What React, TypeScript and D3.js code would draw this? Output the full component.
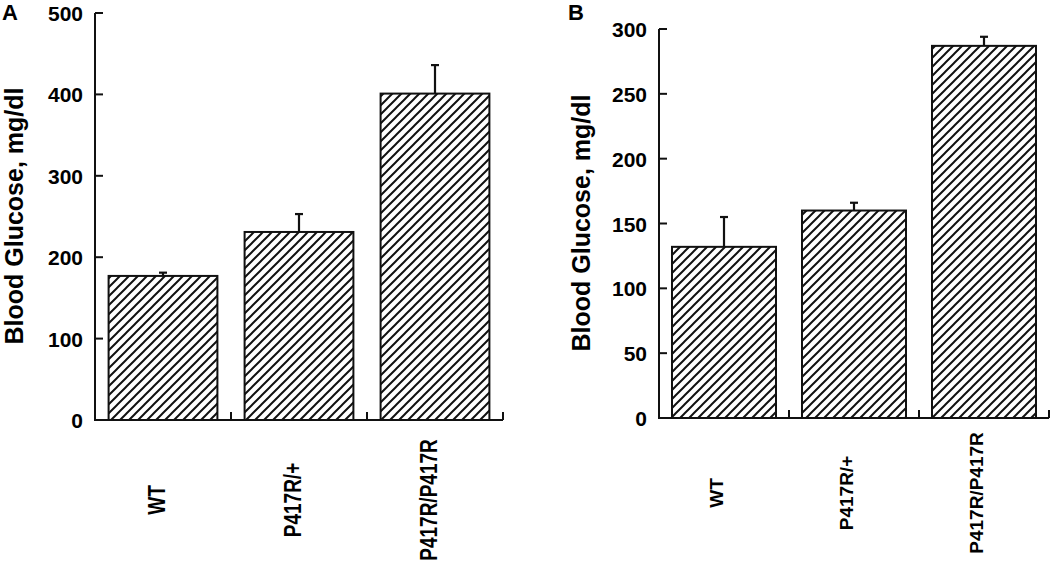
import React from "react";
import * as d3 from "d3";

const categories = ["WT", "P417R/+", "P417R/P417R"];
const glucoseA = [177, 231, 401];
const errorA = [4, 22, 35];
const glucoseB = [132, 160, 287];
const errorB = [23, 6, 7];
const ticksA = [0, 100, 200, 300, 400, 500];
const ticksB = [0, 50, 100, 150, 200, 250, 300];

const font = "'Liberation Sans', Arial, Helvetica, sans-serif";

type PanelProps = {
  letter: string;
  letterX: number;
  values: number[];
  errors: number[];
  ticks: number[];
  left: number;
  right: number;
  bottom: number;
  top: number;
  titleX: number;
  titleY: number;
  labelY: number;
  labelDx: number;
  labelStretch: number;
};

const Panel = (p: PanelProps) => {
  const max = p.ticks[p.ticks.length - 1];
  const y = d3.scaleLinear().domain([0, max]).range([p.bottom, p.top]);
  const x = d3
    .scaleBand()
    .domain(categories)
    .range([p.left, p.right])
    .paddingInner(0.2)
    .paddingOuter(0.1);
  const step = x.step();
  const bounds = categories.map((_, i) => p.left + step * (i + 1));

  return (
    <g>
      <text x={p.letterX} y={20} fontSize={22} fontWeight="bold" fontFamily={font}>
        {p.letter}
      </text>
      <text
        transform={`translate(${p.titleX},${p.titleY}) rotate(-90)`}
        textAnchor="middle"
        fontSize={25}
        fontWeight="bold"
        fontFamily={font}
      >
        Blood Glucose, mg/dl
      </text>

      {categories.map((c, i) => {
        const bx = x(c)!;
        const bw = x.bandwidth();
        const cx = bx + bw / 2;
        const yv = y(p.values[i]);
        const ye = y(p.values[i] + p.errors[i]);
        return (
          <g key={c}>
            <rect
              x={bx}
              y={yv}
              width={bw}
              height={p.bottom - yv}
              fill="url(#hatch)"
              stroke="#111"
              strokeWidth={2}
            />
            <line x1={cx} x2={cx} y1={yv} y2={ye} stroke="#111" strokeWidth={2.2} />
            <line x1={cx - 4} x2={cx + 4} y1={ye} y2={ye} stroke="#111" strokeWidth={2.2} />
            <text
              transform={`translate(${cx + p.labelDx},${p.labelY}) rotate(-90) scale(1,${p.labelStretch})`}
              textAnchor="middle"
              fontSize={19}
              fontWeight="bold"
              fontFamily={font}
            >
              {c}
            </text>
          </g>
        );
      })}

      {/* y axis */}
      <line x1={p.left} x2={p.left} y1={p.bottom + 1} y2={p.top} stroke="#111" strokeWidth={2} />
      {p.ticks.map((t) => (
        <g key={t}>
          <line x1={p.left} x2={p.left + 8} y1={y(t)} y2={y(t)} stroke="#111" strokeWidth={2} />
          <text
            x={p.left - 12}
            y={y(t) + 8}
            textAnchor="end"
            fontSize={21}
            fontWeight="bold"
            fontFamily={font}
          >
            {t}
          </text>
        </g>
      ))}

      {/* x axis */}
      <line x1={p.left - 1} x2={p.right} y1={p.bottom} y2={p.bottom} stroke="#111" strokeWidth={2} />
      {bounds.map((b, i) => (
        <line key={i} x1={b} x2={b} y1={p.bottom} y2={p.bottom - 8} stroke="#111" strokeWidth={2} />
      ))}
    </g>
  );
};

export default function App() {
  return (
    <svg
      width={1050}
      height={563}
      style={{ position: "absolute", left: 0, top: 0, background: "#fff" }}
    >
      <defs>
        <pattern id="hatch" patternUnits="userSpaceOnUse" width={9} height={9}>
          <path d="M0,9 L9,0 M-2,2 L2,-2 M7,11 L11,7" stroke="#111" strokeWidth={2} />
        </pattern>
      </defs>
      <Panel
        letter="A"
        letterX={2}
        values={glucoseA}
        errors={errorA}
        ticks={ticksA}
        left={95}
        right={503}
        bottom={420}
        top={13}
        titleX={23}
        titleY={216}
        labelY={500}
        labelDx={2}
        labelStretch={1.25}
      />
      <Panel
        letter="B"
        letterX={568}
        values={glucoseB}
        errors={errorB}
        ticks={ticksB}
        left={659}
        right={1049}
        bottom={418}
        top={29}
        titleX={590}
        titleY={223}
        labelY={493}
        labelDx={-1}
        labelStretch={1}
      />
    </svg>
  );
}
